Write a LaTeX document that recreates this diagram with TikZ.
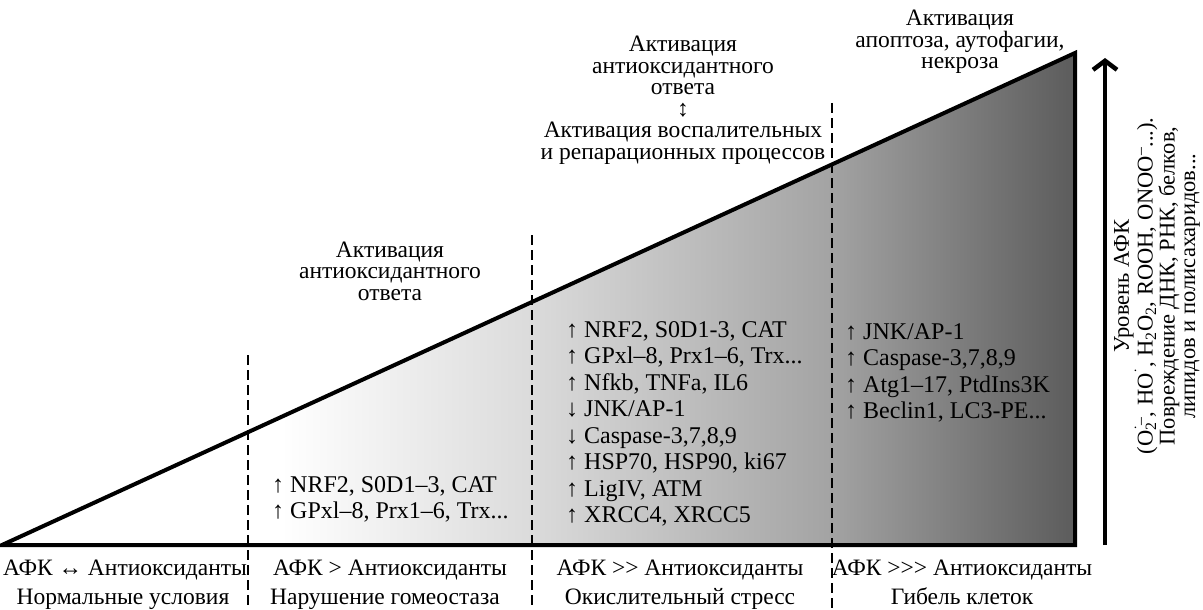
\documentclass[tikz,border=0pt]{standalone}
\usepackage{fontspec}
\setmainfont{Liberation Serif}
\usetikzlibrary{arrows.meta}
\pgfdeclarehorizontalshading{trishade}{100bp}{color(0bp)=(white); color(38bp)=(white); color(49.6bp)=(black!14); color(63.6bp)=(black!36); color(75bp)=(black!64); color(100bp)=(black!64)}
\newcommand{\gtgt}{>\kern0pt>}
\begin{document}
\begin{tikzpicture}[x=1pt,y=-1pt,
 txt/.style={font=\fontsize{23.5}{21.5}\selectfont, align=center, inner sep=0pt},
 lst/.style={font=\fontsize{24}{26.5}\selectfont, align=left, inner sep=0pt, anchor=west},
 bot/.style={font=\fontsize{23.5}{26}\selectfont, inner sep=0pt, anchor=base},
 rot/.style={font=\fontsize{22.5}{20.5}\selectfont, align=center, inner sep=0pt, rotate=90},
 dsh/.style={line width=2.8pt, dash pattern=on 10pt off 5pt},
 edgeline/.style={line width=4pt, line join=miter},
 axisarrow/.style={line width=4.5pt, -{Straight Barb[length=9pt,width=24pt]}}]
\useasboundingbox (0,0) rectangle (1203,610);
% triangle
\coordinate (L) at (2,545);
\coordinate (BR) at (1075,545);
\coordinate (TR) at (1075,53);
\shade[shading=trishade] (L) -- (BR) -- (TR) -- cycle;
% dashed separators
\coordinate (d1t) at (248,355); \coordinate (d1b) at (248,610);
\coordinate (d2t) at (532,235); \coordinate (d2b) at (532,610);
\coordinate (d3t) at (832,103); \coordinate (d3b) at (832,610);
\draw[dsh] (d1t) -- (d1b);
\draw[dsh] (d2t) -- (d2b);
\draw[dsh] (d3t) -- (d3b);
\draw[edgeline] (L) -- (BR) -- (TR) -- cycle;
% level arrow
\coordinate (a0) at (1105,545);
\coordinate (a1) at (1105,58);
\draw[axisarrow] (a0) -- (a1);
\node[rot] (lvl) at (1157,286) {Уровень АФК\\(O\rlap{\textsubscript{2}}\textsuperscript{˙–}, HO\textsuperscript{˙}, H\textsubscript{2}O\textsubscript{2}, ROOH, ONOO\textsuperscript{–}...).\\Повреждение ДНК, РНК, белков,\\липидов и полисахаридов...};
% upper texts
\node[txt] (t1) at (390,271) {Активация\\антиоксидантного\\ответа};
\node[txt] (t2) at (683,100) {Активация\\антиоксидантного\\ответа\\↕\\Активация воспалительных\\и репарационных процессов};
\node[txt] (t3) at (960,42) {Активация\\апоптоза, аутофагии,\\некроза};
% lists
\node[lst] (l1) at (272,499.5) {↑ NRF2, S0D1–3, CAT\\↑ GPxl–8, Prx1–6, Trx...};
\node[lst] (l2) at (566,424) {↑ NRF2, S0D1-3, CAT\\↑ GPxl–8, Prx1–6, Trx...\\↑ Nfkb, TNFa, IL6\\↓ JNK/AP-1\\↓ Caspase-3,7,8,9\\↑ HSP70, HSP90, ki67\\↑ LigIV, ATM\\↑ XRCC4, XRCC5};
\node[lst] (l3) at (845,373) {↑ JNK/AP-1\\↑ Caspase-3,7,8,9\\↑ Atg1–17, PtdIns3K\\↑ Beclin1, LC3-PE...};
% bottom labels
\node[bot] (b1) at (125,575) {АФК ↔ Антиоксиданты};
\node[bot] (b2) at (123,604) {Нормальные условия};
\node[bot] (b3) at (390,575) {АФК > Антиоксиданты};
\node[bot] (b4) at (385,604) {Нарушение гомеостаза};
\node[bot] (b5) at (680,575) {АФК \gtgt{} Антиоксиданты};
\node[bot] (b6) at (680,604) {Окислительный стресс};
\node[bot] (b7) at (962,575) {АФК \gtgt\kern0pt> Антиоксиданты};
\node[bot] (b8) at (962,604) {Гибель клеток};
\end{tikzpicture}
\end{document}
